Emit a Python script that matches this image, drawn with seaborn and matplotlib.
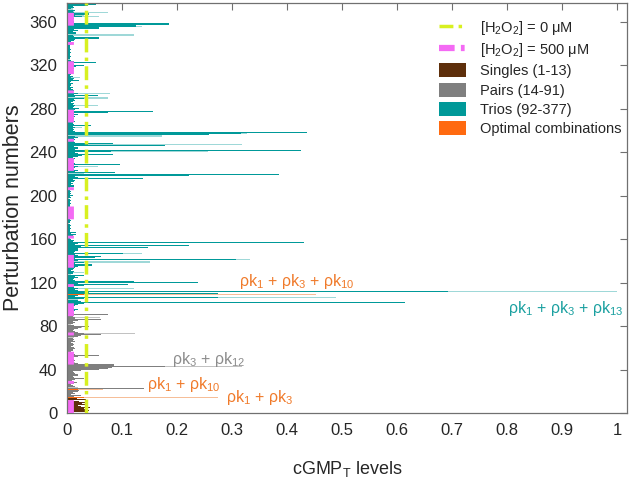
import matplotlib
matplotlib.use("Agg")
import matplotlib.pyplot as plt
import numpy as np
import pandas as pd
import seaborn as sns
from matplotlib.lines import Line2D
from matplotlib.patches import Patch

sns.set_style("white")
plt.rcParams["font.family"] = ["Liberation Sans", "DejaVu Sans"]
plt.rcParams["mathtext.fontset"] = "custom"
plt.rcParams["mathtext.rm"] = "Liberation Sans"
plt.rcParams["mathtext.it"] = "Liberation Sans:italic"
plt.rcParams["mathtext.default"] = "regular"

# cGMP_T levels at [H2O2] = 0 uM, perturbations 1..377
levels_0uM = [
    .038, .040, .036, .030, .041, .025, .020, .035, .028, .038,
    .022, .035, .018, .030, .012, .025, .008, .015, .010, .020,
    .022, .020, .140, .015, .010, .008, .012, .018, .010, .009,
    .015, .030, .012, .010, .020, .015, .012, .010, .025, .058,
    .075, .082, .179, .085, .085, .020, .010, .015, .012, .010,
    .008, .020, .058, .015, .010, .012, .008, .010, .015, .012,
    .008, .010, .012, .010, .008, .015, .010, .012, .010, .020,
    .025, .061, .030, .020, .015, .010, .012, .020, .025, .040,
    .012, .010, .015, .010, .020, .061, .015, .015, .010, .012,
    .074, .012, .010, .015, .020, .012, .010, .008, .015, .020,
    .030, .614, .025, .020, .030, .275, .015, .020, .030, .274,
    .040, .693, .020, .015, .020, .012, .030, .110, .020, .239,
    .121, .015, .010, .012, .020, .015, .030, .010, .010, .012,
    .008, .010, .012, .015, .020, .045, .045, .015, .030, .020,
    .307, .015, .050, .062, .020, .015, .102, .012, .015, .020,
    .020, .148, .025, .221, .015, .020, .431, .010, .012, .008,
    .006, .008, .010, .016, .008, .016, .006, .005, .006, .008,
    .005, .006, .008, .005, .006, .005, .007, .005, .006, .005,
    .006, .005, .007, .006, .008, .005, .006, .005, .007, .006,
    .005, .006, .008, .005, .006, .007, .005, .008, .006, .010,
    .006, .008, .005, .007, .006, .008, .010, .006, .012, .008,
    .010, .008, .012, .015, .010, .139, .020, .015, .221, .386,
    .088, .015, .020, .012, .010, .015, .020, .012, .097, .015,
    .010, .008, .012, .015, .010, .020, .028, .083, .020, .015,
    .080, .425, .015, .020, .012, .179, .038, .083, .015, .012,
    .010, .015, .012, .020, .015, .259, .316, .437, .015, .010,
    .012, .010, .015, .010, .043, .012, .010, .015, .010, .008,
    .012, .010, .015, .010, .020, .012, .075, .156, .015, .022,
    .010, .012, .015, .010, .012, .008, .010, .015, .012, .031,
    .015, .057, .012, .020, .010, .008, .012, .010, .008, .010,
    .006, .008, .010, .006, .008, .022, .010, .012, .008, .010,
    .006, .008, .005, .010, .006, .008, .012, .010, .017, .031,
    .012, .010, .053, .012, .008, .006, .005, .008, .006, .005,
    .006, .008, .005, .006, .008, .005, .006, .005, .008, .006,
    .010, .008, .012, .015, .059, .059, .012, .010, .017, .017,
    .010, .020, .012, .059, .059, .125, .125, .185, .185, .012,
    .010, .008, .012, .010, .027, .015, .040, .040, .012, .010,
    .015, .008, .012, .010, .038, .053, .030,
]

# cGMP_T levels at [H2O2] = 500 uM, perturbations 1..377
levels_500uM = [
    .012, .010, .015, .008, .012, .010, .006, .009, .011, .013,
    .007, .010, .006, .275, .010, .015, .006, .012, .008, .010,
    .015, .066, .020, .010, .008, .006, .010, .012, .008, .006,
    .012, .020, .010, .008, .015, .010, .008, .006, .012, .020,
    .030, .025, .318, .020, .030, .015, .008, .010, .008, .006,
    .006, .010, .015, .012, .008, .010, .006, .008, .010, .008,
    .006, .008, .010, .006, .008, .010, .006, .008, .010, .012,
    .015, .020, .124, .010, .012, .008, .010, .012, .028, .010,
    .008, .010, .012, .008, .010, .020, .012, .060, .008, .010,
    .030, .010, .008, .012, .015, .010, .008, .006, .012, .015,
    .020, .100, .015, .012, .020, .489, .010, .015, .452, .060,
    .020, 1.000, .015, .012, .122, .010, .015, .030, .015, .060,
    .040, .010, .008, .010, .015, .010, .012, .008, .030, .010,
    .006, .008, .010, .012, .015, .015, .020, .012, .150, .015,
    .333, .012, .020, .020, .015, .012, .136, .010, .012, .015,
    .015, .050, .015, .080, .010, .015, .100, .008, .010, .006,
    .005, .006, .008, .010, .006, .005, .004, .005, .006, .005,
    .004, .005, .006, .004, .005, .004, .005, .004, .005, .004,
    .005, .004, .006, .005, .006, .004, .005, .004, .006, .005,
    .004, .005, .006, .004, .005, .006, .004, .006, .005, .008,
    .005, .006, .004, .006, .005, .006, .008, .005, .010, .006,
    .008, .006, .010, .012, .008, .040, .015, .012, .050, .100,
    .030, .012, .015, .010, .008, .012, .056, .010, .020, .012,
    .008, .006, .010, .012, .008, .015, .010, .030, .015, .012,
    .256, .080, .012, .015, .010, .030, .318, .020, .012, .010,
    .008, .012, .010, .015, .173, .173, .327, .100, .012, .008,
    .010, .008, .028, .008, .020, .010, .008, .012, .008, .006,
    .010, .008, .012, .008, .010, .010, .030, .050, .012, .010,
    .008, .010, .057, .008, .010, .006, .008, .012, .010, .075,
    .012, .030, .010, .078, .008, .006, .010, .008, .006, .008,
    .005, .006, .008, .005, .006, .010, .008, .010, .023, .008,
    .005, .006, .004, .008, .005, .006, .010, .008, .010, .030,
    .010, .008, .020, .010, .006, .005, .004, .006, .005, .004,
    .005, .006, .004, .005, .006, .004, .005, .004, .006, .005,
    .008, .006, .010, .012, .020, .030, .010, .122, .010, .010,
    .008, .010, .010, .030, .020, .137, .060, .050, .170, .010,
    .008, .006, .010, .008, .059, .030, .020, .010, .074, .012,
    .006, .010, .004, .005, .015, .030, .088,
]

perturbation_ids = list(range(1, 378))
last_single, last_pair = 13, 91
optimal_ids = [14, 22, 109]
control_0uM = 0.0345
control_500uM = 0.0075

group_names = ["Singles", "Pairs", "Trios", "Optimal"]
legend_labels = ["Singles (1-13)", "Pairs (14-91)", "Trios (92-377)", "Optimal combinations"]
dark_colors = {"Singles": "#5e2f0b", "Pairs": "#7f7f7f", "Trios": "#009999", "Optimal": "#ff6a10"}
light_colors = {"Singles": "#c9a08c", "Pairs": "#c2c2c2", "Trios": "#9fd8d8", "Optimal": "#f6be98"}

annotations = [
    ("ρk$_1$ + ρk$_3$ + ρk$_{10}$", 0.313, 121, "#f07a2a", "left"),
    ("ρk$_1$ + ρk$_3$ + ρk$_{13}$", 1.012, 96, "#1aa0a0", "right"),
    ("ρk$_3$ + ρk$_{12}$", 0.190, 49, "#8c8c8c", "left"),
    ("ρk$_1$ + ρk$_{10}$", 0.146, 26, "#f07a2a", "left"),
    ("ρk$_1$ + ρk$_3$", 0.289, 14, "#f07a2a", "left"),
]


def group_of(i):
    if i in optimal_ids:
        return "Optimal"
    if i <= last_single:
        return "Singles"
    if i <= last_pair:
        return "Pairs"
    return "Trios"


df = pd.DataFrame({
    "pid": perturbation_ids,
    "level0": levels_0uM,
    "level500": levels_500uM,
})
df["group"] = [group_of(i) for i in df["pid"]]

fig = plt.figure(figsize=(6.33, 4.84), dpi=100)
ax = fig.add_axes([67 / 633, 71 / 484, 560 / 633, 410 / 484])

# light (500 uM) bars underneath, dark (0 uM) bars on top
sns.barplot(data=df, x="level500", y="pid", hue="group", palette=light_colors,
            hue_order=group_names, orient="h", native_scale=True, dodge=False,
            width=1.0, errorbar=None, legend=False, saturation=1, linewidth=0,
            ax=ax, zorder=1.5)
sns.barplot(data=df, x="level0", y="pid", hue="group", palette=dark_colors,
            hue_order=group_names, orient="h", native_scale=True, dodge=False,
            width=0.95, errorbar=None, legend=False, saturation=1, linewidth=0,
            ax=ax, zorder=2)

ax.axvline(control_500uM, color="#f46af4", lw=4.2, ls=(0, (2.2, 2.8, 0.5, 2.8)), zorder=2.8)
ax.axvline(control_0uM, color="#d8f020", lw=2.5, ls=(0, (4, 1.5, 1, 1.5)), zorder=3)

for txt, x, y, c, ha in annotations:
    ax.text(x, y, txt, color=c, fontsize=11.5, ha=ha, va="center", zorder=4)

ax.set_xlim(0, 1.018)
ax.set_ylim(0, 377.5)
ax.set_xticks(np.arange(0, 1.01, 0.1))
ax.set_xticklabels(["0", "0.1", "0.2", "0.3", "0.4", "0.5", "0.6", "0.7", "0.8", "0.9", "1"])
ax.set_yticks(np.arange(0, 361, 40))
ax.tick_params(direction="in", length=5, width=0.8, color="#707070",
               top=True, right=True, labelsize=12, pad=7)
for s in ax.spines.values():
    s.set_color("#707070")
    s.set_linewidth(0.9)

ax.set_xlabel("cGMP$_T$ levels", fontsize=13)
ax.set_ylabel("Perturbation numbers", fontsize=15.5)
ax.xaxis.set_label_coords(0.5, -0.112)
ax.yaxis.set_label_coords(-0.076, 0.5)

handles = [
    Line2D([], [], color="#d8f020", lw=2.5, ls=(0, (4, 1.5, 1, 1.5))),
    Line2D([], [], color="#f46af4", lw=4.5, ls=(0, (2.5, 1, 0.6, 1))),
] + [Patch(facecolor=dark_colors[g], edgecolor="none") for g in group_names]
labels = ["[H$_2$O$_2$] = 0 μM", "[H$_2$O$_2$] = 500 μM"] + legend_labels
ax.legend(handles, labels, loc="upper left", bbox_to_anchor=(0.665, 0.962),
          frameon=False, fontsize=10.5, handlelength=1.8, handleheight=1.1,
          handletextpad=1.0, labelspacing=0.3, borderpad=0, borderaxespad=0)

fig.savefig("out.png", dpi=100)
